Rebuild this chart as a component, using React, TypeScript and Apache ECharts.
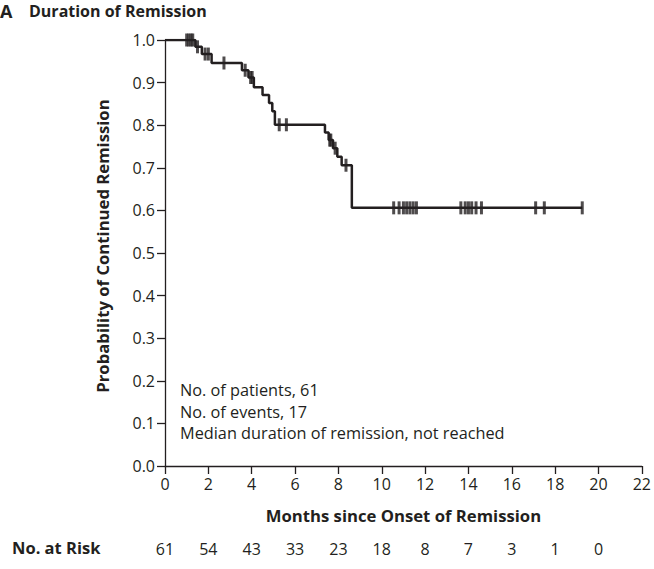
import React, { useEffect, useRef } from "react";
import * as echarts from "echarts";

const eventTimes = [0, 1.4, 1.7, 2.15, 3.55, 3.85, 4.1, 4.5, 4.8, 4.95, 5.07, 7.38, 7.55, 7.75, 7.95, 8.15, 8.62, 19.25];
const eventSurv = [1.0, 0.984, 0.967, 0.946, 0.929, 0.912, 0.889, 0.871, 0.852, 0.833, 0.801, 0.783, 0.765, 0.746, 0.726, 0.706, 0.606, 0.606];

const censorTimes = [1.0, 1.1, 1.2, 1.28, 1.5, 1.85, 2.0, 2.72, 3.7, 3.95, 4.02, 5.27, 5.6, 7.6, 7.65, 7.85, 8.35,
  10.55, 10.8, 11.0, 11.15, 11.3, 11.45, 11.6, 13.65, 13.85, 14.0, 14.15, 14.35, 14.6, 17.1, 17.5, 19.25];
const censorSurv = [1.0, 1.0, 1.0, 1.0, 0.984, 0.967, 0.967, 0.946, 0.929, 0.912, 0.912, 0.801, 0.801, 0.765, 0.765, 0.746, 0.706,
  0.606, 0.606, 0.606, 0.606, 0.606, 0.606, 0.606, 0.606, 0.606, 0.606, 0.606, 0.606, 0.606, 0.606, 0.606, 0.606];

const riskTimes = [0, 2, 4, 6, 8, 10, 12, 14, 16, 18, 20];
const riskCounts = [61, 54, 43, 33, 23, 18, 8, 7, 3, 1, 0];

const annotations = ["No. of patients, 61", "No. of events, 17", "Median duration of remission, not reached"];

const INK = "#231f20";
const FONT = "'Open Sans'";

export default function App() {
  const ref = useRef<HTMLDivElement>(null);
  useEffect(() => {
    if (!ref.current) return;
    const chart = echarts.init(ref.current, undefined, { renderer: "svg" });
    const option: any = {
      animation: false,
      backgroundColor: "#ffffff",
      textStyle: { fontFamily: FONT, color: INK },
      grid: { left: 165, right: 10, top: 40, bottom: 103, containLabel: false },
      xAxis: [
        {
          type: "value",
          min: 0,
          max: 22,
          interval: 2,
          name: "Months since Onset of Remission",
          nameLocation: "middle",
          nameGap: 41,
          nameTextStyle: { fontFamily: FONT, fontWeight: "bold", fontSize: 16.7, color: INK, verticalAlign: "top" },
          axisLine: { show: true, onZero: false, lineStyle: { color: INK, width: 1.3 } },
          axisTick: { show: true, inside: false, length: 8, lineStyle: { color: INK, width: 1.3 } },
          axisLabel: { margin: 10, fontFamily: FONT, fontSize: 16, color: INK },
          splitLine: { show: false },
        },
        {
          type: "value",
          position: "bottom",
          offset: 75,
          min: 0,
          max: 22,
          interval: 2,
          axisLine: { show: false },
          axisTick: { show: false },
          splitLine: { show: false },
          axisLabel: {
            margin: 0,
            fontFamily: FONT,
            fontSize: 16,
            color: INK,
            formatter: (v: number) => {
              const i = riskTimes.indexOf(v);
              return i >= 0 ? String(riskCounts[i]) : "";
            },
          },
        },
      ],
      yAxis: {
        type: "value",
        min: 0,
        max: 1,
        interval: 0.1,
        name: "Probability of Continued Remission",
        nameLocation: "middle",
        nameGap: 54,
        nameTextStyle: { fontFamily: FONT, fontWeight: "bold", fontSize: 16.7, color: INK, padding: [0, 0, 0, 14] },
        axisLine: { show: true, lineStyle: { color: INK, width: 1.3 } },
        axisTick: { show: true, inside: false, length: 8, lineStyle: { color: INK, width: 1.3 } },
        axisLabel: { margin: 10, fontFamily: FONT, fontSize: 16, color: INK, formatter: (v: number) => v.toFixed(1) },
        splitLine: { show: false },
      },
      series: [
        {
          type: "line",
          step: "end",
          xAxisIndex: 0,
          data: eventTimes.map((t, i) => [t, eventSurv[i]]),
          symbol: "none",
          lineStyle: { color: INK, width: 2.5 },
          z: 3,
        },
        {
          type: "scatter",
          xAxisIndex: 0,
          data: censorTimes.map((t, i) => [t, censorSurv[i]]),
          symbol: "rect",
          symbolSize: [3, 13],
          itemStyle: { color: INK },
          z: 4,
        },
      ],
      graphic: [
        { type: "text", left: 0, top: 2, style: { text: "A", font: `bold 18px ${FONT}`, fill: INK } },
        { type: "text", left: 29, top: 3, style: { text: "Duration of Remission", font: `bold 16px ${FONT}`, fill: INK } },
        { type: "text", left: 12, top: 539, style: { text: "No. at Risk", font: `bold 16.5px ${FONT}`, fill: INK } },
        ...annotations.map((t, i) => ({
          type: "text",
          left: 180,
          top: 382 + i * 21.5,
          style: { text: t, font: `16.3px ${FONT}`, fill: INK },
        })),
      ],
    };
    chart.setOption(option);
    return () => chart.dispose();
  }, []);
  return <div ref={ref} style={{ position: "fixed", left: 0, top: 0, width: 654, height: 569 }} />;
}
